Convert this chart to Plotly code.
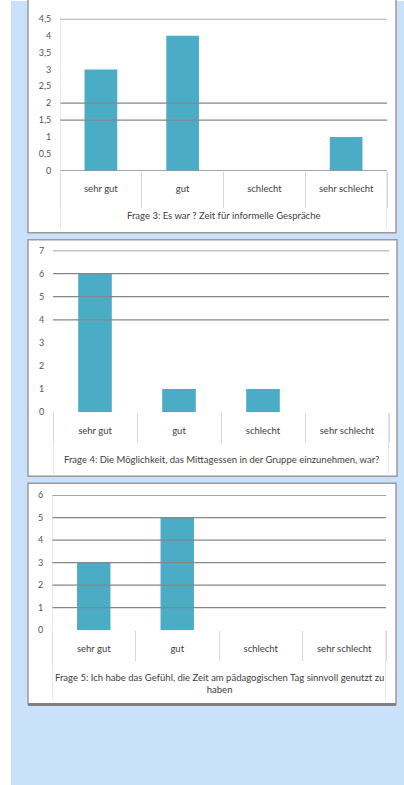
import plotly.graph_objects as go

# ---------------- data ----------------
categories = ["sehr gut", "gut", "schlecht", "sehr schlecht"]
q3_values = [3, 4, 0, 1]
q4_values = [6, 1, 1, 0]
q5_values = [3, 5, 0, 0]
q3_title = "Frage 3: Es war ? Zeit für informelle Gespräche"
q4_title = "Frage 4: Die Möglichkeit, das Mittagessen in der Gruppe einzunehmen, war?"
q5_title = "Frage 5: Ich habe das Gefühl, die Zeit am pädagogischen Tag sinnvoll genutzt zu<br>haben"
q3_ymax, q3_dtick = 4.5, 0.5
q4_ymax, q4_dtick = 7, 1
q5_ymax, q5_dtick = 6, 1

# ---------------- layout helpers ----------------
W, H = 404, 785
def fx(px):
    return px / W
def fy(py):
    return 1 - py / H

BAR = "#4BACC6"
GRID = "#868686"
SEP = "#D9D9D9"
TXT = "#404040"
TICKTXT = "#555555"
BLUE = "#C9E1FA"
FONT = "Lato, 'Open Sans', sans-serif"

panels = [
    dict(vals=q3_values, title=q3_title, ymax=q3_ymax, dtick=q3_dtick,
         px=(60, 387, 13, 167), box=(28, 396, -10, 230), tick=36,
         grid=[4.5, 2, 1.5, 0], tbottom=226, title_y=212, axisline_top=True),
    dict(vals=q4_values, title=q4_title, ymax=q4_ymax, dtick=q4_dtick,
         px=(53, 389, 248, 412), box=(28, 397, 237, 477), tick=30,
         grid=[7, 6, 5, 4], tbottom=475, title_y=460, axisline_top=False),
    dict(vals=q5_values, title=q5_title, ymax=q5_ymax, dtick=q5_dtick,
         px=(52, 386, 496, 633), box=(28, 396, 484, 708), tick=30,
         grid=[6, 5, 4, 3, 2, 1], tbottom=703, title_y=687, axisline_top=True),
]

fig = go.Figure()
shapes = []
annotations = []

shapes.append(dict(type="rect", xref="paper", yref="paper", x0=fx(11), x1=fx(W + 5),
                   y0=fy(H + 5), y1=fy(-5), fillcolor=BLUE, line=dict(width=0), layer="below"))

for i, p in enumerate(panels, start=1):
    sfx = "" if i == 1 else str(i)
    xa, ya = "x" + sfx, "y" + sfx
    x0, x1, yt, yb = p["px"]
    bx0, bx1, by0, by1 = p["box"]
    shapes.append(dict(type="rect", xref="paper", yref="paper", x0=fx(bx0), x1=fx(bx1),
                       y0=fy(by1), y1=fy(by0), fillcolor="white",
                       line=dict(color="#9A9A9A", width=1.5), layer="below"))
    fig.add_trace(go.Bar(x=categories, y=p["vals"], xaxis=xa, yaxis=ya,
                         marker=dict(color=BAR, line=dict(width=0)), width=0.4,
                         showlegend=False, hoverinfo="x+y"))
    fig.layout["xaxis" + sfx] = dict(
        domain=[fx(x0), fx(x1)], anchor=ya, type="category", range=[-0.5, 3.5],
        showgrid=False, zeroline=False, showline=False,
        ticks="outside", tickson="boundaries", ticklen=p["tick"], tickcolor=SEP, tickwidth=1,
        ticklabelstandoff=11,
        tickfont=dict(family=FONT, size=9.5, color=TXT), fixedrange=True)
    fig.layout["yaxis" + sfx] = dict(
        domain=[fy(yb), fy(yt)], anchor=xa, range=[0, p["ymax"]], dtick=p["dtick"], tick0=0,
        showgrid=False, zeroline=False, showline=False,
        ticks="outside", ticklen=6, tickcolor="rgba(0,0,0,0)",
        tickfont=dict(family=FONT, size=9, color=TICKTXT), fixedrange=True)
    for g in p["grid"]:
        shapes.append(dict(type="line", xref=xa + " domain", yref=ya, x0=0, x1=1, y0=g, y1=g,
                           line=dict(color=GRID, width=1.3), layer="above"))
    ltop = p["ymax"] if p["axisline_top"] else 0
    shapes.append(dict(type="line", xref=xa, yref=ya, x0=-0.5, x1=-0.5, y0=ltop, y1=0,
                       line=dict(color=SEP, width=1.2)))
    for xv in (-0.5, 3.5):
        shapes.append(dict(type="line", xref=xa, yref="paper", x0=xv, x1=xv,
                           y0=fy(yb), y1=fy(p["tbottom"]), line=dict(color=SEP, width=1.2)))
    annotations.append(dict(text=p["title"], xref=xa + " domain", yref="paper", x=0.5,
                            y=fy(p["title_y"]), xanchor="center", yanchor="middle",
                            showarrow=False, font=dict(family=FONT, size=9.5, color=TXT)))

shapes.append(dict(type="line", xref="paper", yref="paper", x0=fx(28), x1=fx(396),
                   y0=fy(708.5), y1=fy(708.5), line=dict(color="#808080", width=3)))

fig.update_layout(width=W, height=H, margin=dict(l=0, r=0, t=0, b=0),
                  paper_bgcolor="white", plot_bgcolor="rgba(0,0,0,0)",
                  separators=",.", bargap=0.6, shapes=shapes, annotations=annotations,
                  font=dict(family=FONT, color=TXT))

fig.write_html("out.html", config={"displayModeBar": False},
               post_script="document.body.style.margin='0';document.body.style.overflow='hidden';")
